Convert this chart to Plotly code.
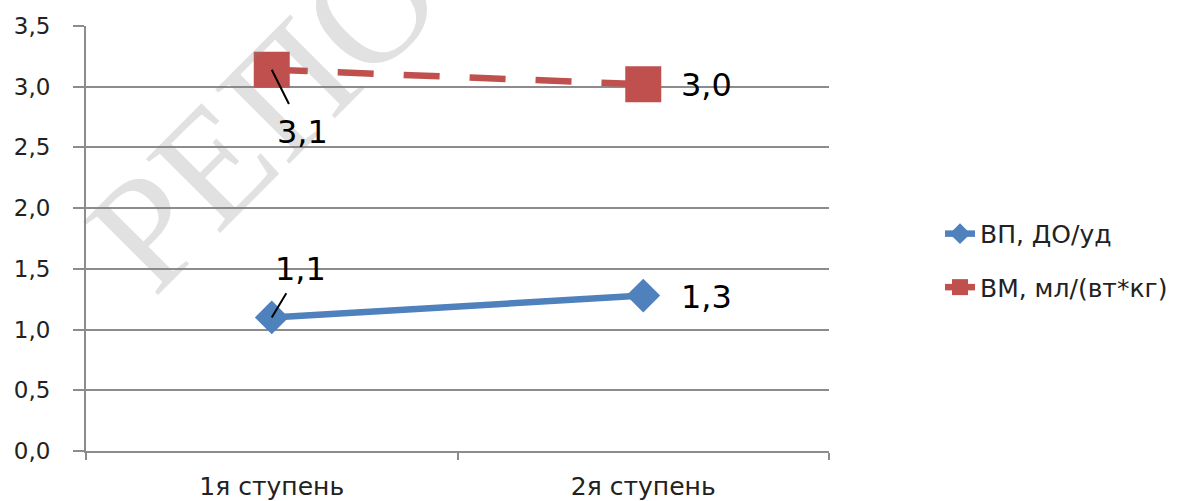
import plotly.graph_objects as go

# Data
categories = ["1я ступень", "2я ступень"]
vp_values = [1.10, 1.28]      # ВП, ДО/уд
vm_values = [3.14, 3.02]      # ВМ, мл/(вт*кг)
series_names = ["ВП, ДО/уд", "ВМ, мл/(вт*кг)"]
y_ticks = [0.0, 0.5, 1.0, 1.5, 2.0, 2.5, 3.0, 3.5]

BLUE = "#4F81BD"
RED = "#C0504D"
GRID = "#8C8C8C"
FONT = "DejaVu Sans"


def fmt(v):
    return f"{v:.1f}".replace(".", ",")


fig = go.Figure()

fig.add_trace(go.Scatter(
    x=categories, y=vp_values, name=series_names[0], mode="lines+markers",
    line=dict(color=BLUE, width=6.5),
    marker=dict(symbol="diamond", size=26, color=BLUE),
    legendgroup="a",
))
fig.add_trace(go.Scatter(
    x=categories, y=vm_values, name=series_names[1], mode="lines+markers",
    line=dict(color=RED, width=6.5, dash="36px,30px"),
    marker=dict(symbol="square", size=36, color=RED),
    legendgroup="b",
))

annotations = []
# repository watermark
annotations.append(dict(
    xref="paper", yref="paper", x=0.585, y=1.40,
    text="РЕПОЗИТОРИЙ", showarrow=False, textangle=-45,
    xanchor="center", yanchor="middle",
    font=dict(family="Liberation Serif", size=160, color="rgba(130,130,130,0.24)"),
))
# labels with leader lines at the first category
annotations.append(dict(
    x=categories[0], y=vm_values[0], text=fmt(vm_values[0]),
    showarrow=True, arrowhead=0, arrowwidth=2, arrowcolor="black",
    ax=31, ay=62, standoff=0, startstandoff=8,
    font=dict(family=FONT, size=32, color="black"),
))
annotations.append(dict(
    x=categories[0], y=vp_values[0], text=fmt(vp_values[0]),
    showarrow=True, arrowhead=0, arrowwidth=2, arrowcolor="black",
    ax=29, ay=-48, standoff=0, startstandoff=4,
    font=dict(family=FONT, size=32, color="black"),
))
# labels to the right of the second category
for vals in (vm_values, vp_values):
    annotations.append(dict(
        x=categories[1], y=vals[1], text=fmt(vals[1]),
        showarrow=False, xanchor="left", yanchor="middle", xshift=36, yshift=-1,
        font=dict(family=FONT, size=32, color="black"),
    ))

fig.update_layout(
    width=1192, height=501,
    margin=dict(l=86, r=363, t=26, b=50),
    paper_bgcolor="white", plot_bgcolor="white",
    separators=", ",
    showlegend=True,
    legend=dict(
        x=(940 - 86) / 743, xanchor="left",
        y=0.565, yanchor="top",
        font=dict(family=FONT, size=25, color="#222"),
        tracegroupgap=18,
        bgcolor="rgba(0,0,0,0)",
    ),
    annotations=annotations,
    xaxis=dict(
        type="category", range=[-0.5, 1.5], automargin=False,
        showgrid=False, showline=True, linecolor=GRID, linewidth=2,
        ticks="outside", tickson="boundaries", ticklen=7, tickwidth=2, tickcolor=GRID,
        ticklabelstandoff=12,
        tickfont=dict(family=FONT, size=25, color="#222"),
        zeroline=False,
    ),
    yaxis=dict(
        range=[0, 3.5], tickvals=y_ticks, tickformat=".1f", automargin=False,
        showgrid=True, gridcolor=GRID, gridwidth=2,
        showline=True, linecolor=GRID, linewidth=2,
        ticks="outside", ticklen=11, tickwidth=2, tickcolor=GRID,
        ticklabelstandoff=18,
        tickfont=dict(family=FONT, size=23, color="#222"),
        zeroline=False,
    ),
)

fig.write_html("out.html")
